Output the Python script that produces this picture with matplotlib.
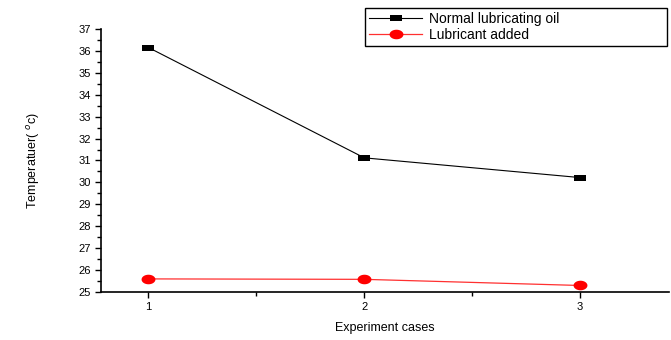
import matplotlib
matplotlib.use("Agg")
import numpy as np
import matplotlib.pyplot as plt
from matplotlib.ticker import MultipleLocator

plt.rcParams['font.family'] = ['Liberation Sans', 'DejaVu Sans']

cases = [1, 2, 3]
normal_oil = [36.15, 31.12, 30.22]
lubricant_added = [25.6, 25.58, 25.3]
y_ticks = list(range(25, 38))

# flattened marker shapes (wide rectangle, wide ellipse)
rect_marker = [(-1.8, -1), (1.8, -1), (1.8, 1), (-1.8, 1), (-1.8, -1)]
t = np.linspace(0, 2 * np.pi, 40)
ellipse_marker = list(zip(1.45 * np.cos(t), np.sin(t)))


def main():
    fig = plt.figure(figsize=(6.71, 3.40), dpi=100)
    ax = fig.add_axes([0.1505, 0.141, 0.846, 0.774])

    ax.plot(cases, normal_oil, color='black', lw=0.8, marker=rect_marker,
            markersize=9, markerfacecolor='black', markeredgewidth=0,
            label='Normal lubricating oil')
    ax.plot(cases, lubricant_added, color='#ff3030', lw=0.9, marker=ellipse_marker,
            markersize=10, markerfacecolor='red', markeredgewidth=0,
            label='Lubricant added')

    ax.set_xlim(0.78, 3.41)
    ax.set_ylim(25, 37)
    ax.set_xticks(cases)
    ax.set_yticks(y_ticks)
    ax.xaxis.set_minor_locator(MultipleLocator(0.5))
    ax.yaxis.set_minor_locator(MultipleLocator(0.5))
    ax.tick_params(which='major', length=4, width=1, labelsize=8, direction='out')
    ax.tick_params(which='minor', length=3, width=1, direction='out')

    for side in ('top', 'right'):
        ax.spines[side].set_visible(False)
    ax.spines['left'].set_linewidth(1.2)
    ax.spines['bottom'].set_linewidth(1.2)

    ax.set_xlabel('Experiment cases', fontsize=9, labelpad=7)
    ax.set_ylabel('Temperatuer( $^{o}$c)', fontsize=9, labelpad=26)

    fig.legend(loc='upper left', mode='expand',
               bbox_to_anchor=(365 / 671, 1 - 43 / 340, 302 / 671, 35 / 340),
               fontsize=10, frameon=True, fancybox=False, edgecolor='black',
               handlelength=3.8, handletextpad=0.5, borderpad=0.3,
               borderaxespad=0, labelspacing=0.1, framealpha=1)

    fig.savefig('out.png', dpi=100)
    plt.close(fig)


if __name__ == "__main__":
    main()
